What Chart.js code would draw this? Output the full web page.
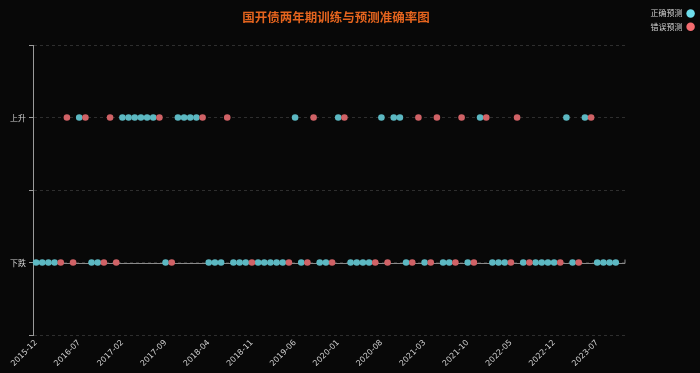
<!DOCTYPE html>
<html>
<head>
<meta charset="utf-8">
<script src="https://cdn.jsdelivr.net/npm/chart.js@4/dist/chart.umd.min.js"></script>
<style>
html,body{margin:0;padding:0;background:#080808;}
#wrap{width:700px;height:373px;}
</style>
</head>
<body>
<div id="wrap"><canvas id="c" width="700" height="373"></canvas></div>
<script>
// Months (category axis)
const months = [
 '2015-12','2016-01','2016-02','2016-03','2016-04','2016-05','2016-06','2016-07','2016-08','2016-09','2016-10','2016-11',
 '2016-12','2017-01','2017-02','2017-03','2017-04','2017-05','2017-06','2017-07','2017-08','2017-09','2017-10','2017-11',
 '2017-12','2018-01','2018-02','2018-03','2018-04','2018-05','2018-06','2018-07','2018-08','2018-09','2018-10','2018-11',
 '2018-12','2019-01','2019-02','2019-03','2019-04','2019-05','2019-06','2019-07','2019-08','2019-09','2019-10','2019-11',
 '2019-12','2020-01','2020-02','2020-03','2020-04','2020-05','2020-06','2020-07','2020-08','2020-09','2020-10','2020-11',
 '2020-12','2021-01','2021-02','2021-03','2021-04','2021-05','2021-06','2021-07','2021-08','2021-09','2021-10','2021-11',
 '2021-12','2022-01','2022-02','2022-03','2022-04','2022-05','2022-06','2022-07','2022-08','2022-09','2022-10','2022-11',
 '2022-12','2023-01','2023-02','2023-03','2023-04','2023-05','2023-06','2023-07','2023-08','2023-09','2023-10','2023-11'
];
// Predicted direction: 1 = 上升, 0 = 下跌
const direction = [
 0,0,0,0,0,1,0,1,1,0,
 0,0,1,0,1,1,1,1,1,1,
 1,0,0,1,1,1,1,1,0,0,
 0,1,0,0,0,0,0,0,0,0,
 0,0,1,0,0,1,0,0,0,1,
 1,0,0,0,0,0,1,0,1,1,
 0,0,1,0,0,1,0,0,0,1,
 0,0,1,1,0,0,0,0,1,0,
 0,0,0,0,0,0,1,0,0,1,
 1,0,0,0,0,null
];
// Prediction correct: 1 = 正确, 0 = 错误
const correct = [
 1,1,1,1,0,0,0,1,0,1,
 1,0,0,0,1,1,1,1,1,1,
 0,1,0,1,1,1,1,0,1,1,
 1,0,1,1,1,0,1,1,1,1,
 1,0,1,1,0,0,1,1,0,1,
 0,1,1,1,1,0,1,0,1,1,
 1,0,0,1,0,0,1,1,0,0,
 1,0,1,0,1,1,1,0,0,1,
 0,1,1,1,1,0,1,1,0,1,
 0,1,1,1,1,null
];
const yTickLabels = {0: '下跌', 1: '上升'};
const seriesNames = ['正确预测', '错误预测'];

const correctData = direction.map((d, i) => (correct[i] === 1 ? d : null));
const wrongData = direction.map((d, i) => (correct[i] === 0 ? d : null));

const TEAL = 'rgb(92,184,194)';
const RED = 'rgb(208,98,102)';
const TEAL_LEG = 'rgb(110,222,236)';
const RED_LEG = 'rgb(244,108,112)';

const zeroLine = {
  id: 'zeroLine',
  beforeDatasetsDraw(chart) {
    const y = chart.scales.y.getPixelForValue(0);
    const {left, right} = chart.chartArea;
    const ctx = chart.ctx;
    ctx.save();
    ctx.strokeStyle = '#8a8a8a';
    ctx.lineWidth = 1;
    ctx.beginPath();
    ctx.moveTo(left, Math.round(y) + 0.5);
    ctx.lineTo(right, Math.round(y) + 0.5);
    ctx.lineTo(right, Math.round(y) - 3.5);
    ctx.stroke();
    ctx.restore();
  }
};
const titleShift = {
  id: 'titleShift',
  afterLayout(chart) {
    if (chart.titleBlock) { chart.titleBlock.left += 7; chart.titleBlock.right += 7; }
  }
};

new Chart(document.getElementById('c'), {
  type: 'line',
  data: {
    labels: months,
    datasets: [
      { label: seriesNames[0], data: correctData, showLine: false, order: 2,
        pointRadius: 3.3, pointHoverRadius: 3.3, pointBorderWidth: 0,
        pointBackgroundColor: TEAL, backgroundColor: TEAL, borderColor: TEAL },
      { label: seriesNames[1], data: wrongData, showLine: false, order: 1,
        pointRadius: 3.3, pointHoverRadius: 3.3, pointBorderWidth: 0,
        pointBackgroundColor: RED, backgroundColor: RED, borderColor: RED }
    ]
  },
  options: {
    responsive: false,
    animation: false,
    layout: { padding: { top: 4, left: 0, right: 0, bottom: 0 } },
    plugins: {
      tooltip: { enabled: false },
      title: {
        display: true, text: '国开债两年期训练与预测准确率图', fullSize: false,
        color: '#e4641e', font: { family: '"Noto Sans CJK SC", sans-serif', size: 12.5, weight: 'bold' },
        padding: { top: 5.5, bottom: 20.5 }
      },
      legend: {
        position: 'right', align: 'start', rtl: true,
        labels: {
          usePointStyle: true, pointStyle: 'circle', boxWidth: 8, boxHeight: 6, padding: 5.4,
          color: '#d0d0d0', font: { family: '"Noto Sans CJK SC", sans-serif', size: 8 },
          sort: (a, b) => a.datasetIndex - b.datasetIndex,
          generateLabels(chart) {
            const items = Chart.defaults.plugins.legend.labels.generateLabels(chart);
            items.forEach(it => {
              const c = it.datasetIndex === 0 ? TEAL_LEG : RED_LEG;
              it.fillStyle = c; it.strokeStyle = c; it.lineWidth = 0;
            });
            return items;
          }
        }
      }
    },
    scales: {
      x: {
        type: 'category', offset: true,
        grid: { display: false, drawTicks: false },
        border: { display: false },
        ticks: {
          autoSkip: false, maxRotation: 45, minRotation: 45, padding: 3,
          color: '#cfcfcf', font: { family: '"DejaVu Sans", sans-serif', size: 8 },
          callback: function (v, i) { return i % 7 === 0 ? this.getLabelForValue(v) : null; }
        },
        afterFit: s => { s.height = 38; }
      },
      y: {
        type: 'linear', min: -0.5, max: 1.5,
        grid: { color: '#2e2e2e', drawTicks: true, tickLength: 4, tickColor: '#9a9a9a', tickBorderDash: [] },
        border: { display: true, color: '#9a9a9a', dash: [3, 3] },
        ticks: {
          stepSize: 0.5, padding: 3, color: '#cfcfcf',
          font: { family: '"Noto Sans CJK SC", sans-serif', size: 8 },
          callback: v => (yTickLabels[v] !== undefined ? yTickLabels[v] : '')
        },
        afterFit: s => { s.width = 33; }
      },
      y2: {
        type: 'linear', position: 'right', display: true,
        grid: { display: false, drawTicks: false }, border: { display: false },
        ticks: { display: false },
        afterFit: s => { s.width = Math.max(0, 75 - (s.chart.legend ? s.chart.legend.width : 0)); }
      }
    }
  },
  plugins: [zeroLine, titleShift]
});
</script>
</body>
</html>
